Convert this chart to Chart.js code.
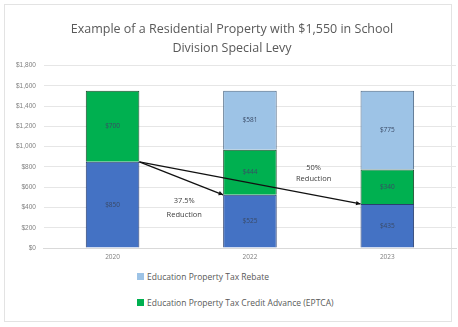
<!DOCTYPE html>
<html>
<head>
<meta charset="utf-8">
<script src="https://cdn.jsdelivr.net/npm/chart.js@4.4.1/dist/chart.umd.min.js"></script>
<style>
  html, body { margin: 0; padding: 0; background: #ffffff; }
  body { width: 458px; height: 327px; overflow: hidden; font-family: "Open Sans", "Liberation Sans", sans-serif; }
  #frame { position: absolute; left: 4px; top: 4px; width: 448px; height: 318px; border: 1px solid #e3e3e3; box-sizing: border-box; }
  #wrap { position: absolute; left: 0; top: 0; width: 458px; height: 263px; }
  #legend { position: absolute; left: 137px; top: 263px; font-size: 8.5px; color: #595959; }
  .item { display: flex; align-items: center; height: 26px; }
  .box { width: 7px; height: 7px; margin-right: 3px; }
</style>
</head>
<body>
<div id="frame"></div>
<div id="wrap"><canvas id="c" width="458" height="263"></canvas></div>
<div id="legend"></div>
<script>
// Chart data
const titleLines = ["Example of a Residential Property with $1,550 in School", "Division Special Levy"];
const years = ["2020", "2022", "2023"];
const netSchoolTax = [850, 525, 435];
const eptca = [700, 444, 340];
const rebate = [0, 581, 775];
const yTicks = [0, 200, 400, 600, 800, 1000, 1200, 1400, 1600, 1800];
const reductionLabels = [["37.5%", "Reduction"], ["50%", "Reduction"]];
const legendNames = ["Education Property Tax Rebate", "Education Property Tax Credit Advance (EPTCA)"];

const fmt = v => "$" + v.toLocaleString("en-US");

// Dollar amounts printed inside each segment
const segmentLabels = {
  id: "segmentLabels",
  afterDatasetsDraw(chart) {
    const ctx = chart.ctx;
    ctx.save();
    ctx.font = "6.5px 'Open Sans', sans-serif";
    ctx.fillStyle = "#3a4a66";
    ctx.textAlign = "center";
    ctx.textBaseline = "middle";
    chart.data.datasets.forEach((ds, di) => {
      const meta = chart.getDatasetMeta(di);
      meta.data.forEach((bar, i) => {
        const v = ds.data[i];
        if (!v) return;
        ctx.fillText(fmt(v), bar.x, (bar.y + bar.base) / 2);
      });
    });
    ctx.restore();
  }
};

// Year labels set close under the category axis
const yearLabels = {
  id: "yearLabels",
  afterDraw(chart) {
    const ctx = chart.ctx;
    const x = chart.scales.x;
    ctx.save();
    ctx.font = "6.5px 'Open Sans', sans-serif";
    ctx.fillStyle = "#7f7f7f";
    ctx.textAlign = "center";
    ctx.textBaseline = "middle";
    chart.data.labels.forEach((lab, i) => {
      ctx.fillText(lab, x.getPixelForValue(i), chart.chartArea.bottom + 9);
    });
    ctx.restore();
  }
};

// Arrows from the first year's net tax to the later years
const reductionArrows = {
  id: "reductionArrows",
  afterDatasetsDraw(chart) {
    const ctx = chart.ctx;
    const y = chart.scales.y;
    const meta = chart.getDatasetMeta(0);
    const b0 = meta.data[0];
    const sx = b0.x + b0.width / 2;
    const sy = y.getPixelForValue(netSchoolTax[0]);
    ctx.save();
    ctx.strokeStyle = "#111";
    ctx.fillStyle = "#111";
    ctx.lineWidth = 1.3;
    [1, 2].forEach(i => {
      const b = meta.data[i];
      const ex = b.x - b.width / 2;
      const ey = y.getPixelForValue(netSchoolTax[i]);
      ctx.beginPath();
      ctx.moveTo(sx, sy);
      ctx.lineTo(ex, ey);
      ctx.stroke();
      const a = Math.atan2(ey - sy, ex - sx);
      ctx.beginPath();
      ctx.moveTo(ex, ey);
      ctx.lineTo(ex - 5 * Math.cos(a - 0.45), ey - 5 * Math.sin(a - 0.45));
      ctx.lineTo(ex - 5 * Math.cos(a + 0.45), ey - 5 * Math.sin(a + 0.45));
      ctx.closePath();
      ctx.fill();
    });
    // reduction captions
    ctx.font = "7.5px 'Open Sans', sans-serif";
    ctx.fillStyle = "#404040";
    ctx.textAlign = "center";
    ctx.textBaseline = "middle";
    const x = chart.scales.x;
    const c1x = (x.getPixelForValue(0) + x.getPixelForValue(1)) / 2 + 3;
    const c1y = y.getPixelForValue(465);
    reductionLabels[0].forEach((t, k) => ctx.fillText(t, c1x, c1y + k * 14));
    const c2x = (x.getPixelForValue(1) + x.getPixelForValue(2)) / 2 - 5;
    const c2y = y.getPixelForValue(790);
    reductionLabels[1].forEach((t, k) => ctx.fillText(t, c2x, c2y + k * 11));
    ctx.restore();
  }
};

const chart = new Chart(document.getElementById("c"), {
  type: "bar",
  data: {
    labels: years,
    datasets: [
      { label: "Net School Tax", data: netSchoolTax, backgroundColor: "#4472C4", borderColor: "#2a3f6e", borderWidth: 1 },
      { label: legendNames[1], data: eptca, backgroundColor: "#00B050", borderColor: "#1d4a2c", borderWidth: 1 },
      { label: legendNames[0], data: rebate, backgroundColor: "#9DC3E6", borderColor: "#4f6a86", borderWidth: 1 }
    ]
  },
  plugins: [segmentLabels, reductionArrows, yearLabels],
  options: {
    responsive: false,
    animation: false,
    devicePixelRatio: 1,
    layout: { padding: { left: 8, right: 2, top: 6, bottom: 7 } },
    datasets: { bar: { categoryPercentage: 1, barPercentage: 0.39 } },
    plugins: {
      legend: { display: false },
      tooltip: { enabled: false },
      title: {
        display: true,
        text: titleLines,
        color: "#595959",
        font: { family: "'Open Sans', sans-serif", size: 12.5, weight: "normal", lineHeight: 1.5 },
        padding: { top: 14, bottom: 8 }
      }
    },
    scales: {
      x: {
        stacked: true,
        grid: { display: false },
        border: { color: "#d9d9d9" },
        ticks: { display: false }
      },
      y: {
        stacked: true,
        min: 0,
        max: 1800,
        afterBuildTicks: s => { s.ticks = yTicks.map(v => ({ value: v })); },
        grid: { color: "#e6e6e6", drawTicks: false },
        border: { display: false },
        ticks: { color: "#7f7f7f", font: { size: 6.5 }, padding: 8, callback: v => fmt(v) }
      }
    }
  }
});

// Legend below the chart, built from the datasets
const legend = document.getElementById("legend");
[2, 1].forEach(di => {
  const ds = chart.data.datasets[di];
  const item = document.createElement("div");
  item.className = "item";
  const box = document.createElement("span");
  box.className = "box";
  box.style.background = ds.backgroundColor;
  item.appendChild(box);
  item.appendChild(document.createTextNode(ds.label));
  legend.appendChild(item);
});
</script>
</body>
</html>
